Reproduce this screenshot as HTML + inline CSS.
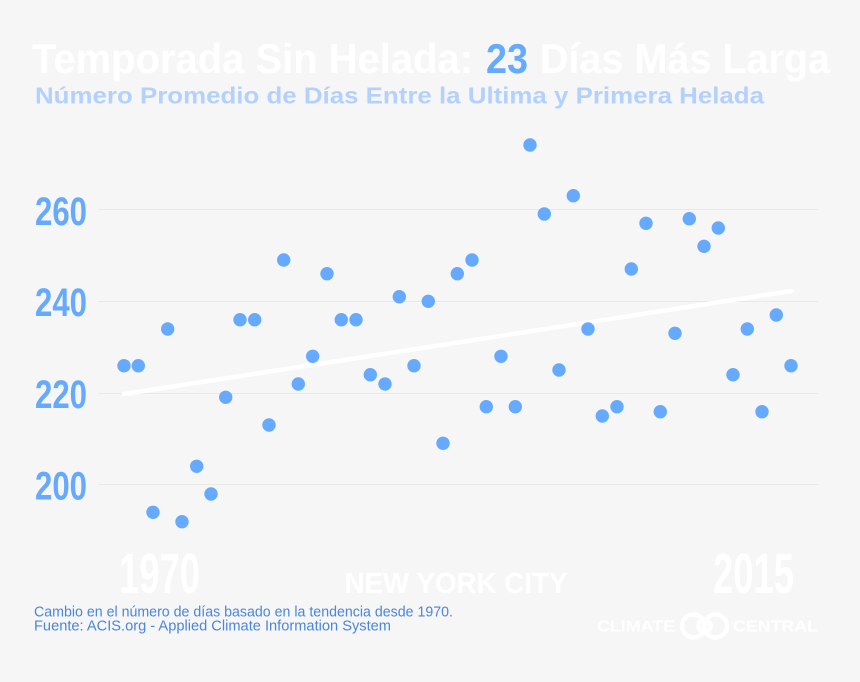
<!DOCTYPE html>
<html><head><meta charset="utf-8"><style>
html,body{margin:0;padding:0;background:#f6f6f6;}
svg{display:block;}
</style></head><body>
<svg width="860" height="682" viewBox="0 0 860 682" xmlns="http://www.w3.org/2000/svg">
<rect width="860" height="682" fill="#f6f6f6"/>
<g font-family="Liberation Sans, sans-serif" font-weight="bold">
<text x="32" y="73" font-size="42" fill="#ffffff" textLength="441" lengthAdjust="spacingAndGlyphs">Temporada Sin Helada:</text>
<text x="486" y="73" font-size="42" fill="#66aaff" textLength="42" lengthAdjust="spacingAndGlyphs">23</text>
<text x="540" y="73" font-size="42" fill="#ffffff" textLength="290" lengthAdjust="spacingAndGlyphs">Días Más Larga</text>
<text x="35" y="103.5" font-size="23.5" fill="#b3d1ff" textLength="729" lengthAdjust="spacingAndGlyphs">Número Promedio de Días Entre la Ultima y Primera Helada</text>
</g>
<g stroke="#e9e9e9" stroke-width="1">
<line x1="98" y1="209.5" x2="818" y2="209.5"/>
<line x1="98" y1="301.5" x2="818" y2="301.5"/>
<line x1="98" y1="393.5" x2="818" y2="393.5"/>
<line x1="98" y1="484.5" x2="818" y2="484.5"/>
</g>
<g font-family="Liberation Sans, sans-serif" font-weight="bold" font-size="40" fill="#66aaff">
<text x="35" y="225" textLength="52" lengthAdjust="spacingAndGlyphs">260</text>
<text x="35" y="316" textLength="52" lengthAdjust="spacingAndGlyphs">240</text>
<text x="35" y="408" textLength="52" lengthAdjust="spacingAndGlyphs">220</text>
<text x="35" y="499.5" textLength="52" lengthAdjust="spacingAndGlyphs">200</text>
</g>
<line x1="124" y1="394" x2="791.5" y2="291" stroke="#ffffff" stroke-width="4.5" stroke-linecap="round"/>
<g fill="#66aaff">
<circle cx="124" cy="365.7" r="6.7"/>
<circle cx="138.3" cy="365.7" r="6.7"/>
<circle cx="153" cy="512.3" r="6.7"/>
<circle cx="167.7" cy="329" r="6.7"/>
<circle cx="182" cy="521.7" r="6.7"/>
<circle cx="196.7" cy="466.3" r="6.7"/>
<circle cx="211" cy="494" r="6.7"/>
<circle cx="225.7" cy="397.3" r="6.7"/>
<circle cx="240" cy="319.7" r="6.7"/>
<circle cx="254.7" cy="319.7" r="6.7"/>
<circle cx="269" cy="425" r="6.7"/>
<circle cx="283.7" cy="260" r="6.7"/>
<circle cx="298.3" cy="384" r="6.7"/>
<circle cx="312.7" cy="356.3" r="6.7"/>
<circle cx="327" cy="273.7" r="6.7"/>
<circle cx="341.3" cy="319.7" r="6.7"/>
<circle cx="356" cy="319.7" r="6.7"/>
<circle cx="370.3" cy="374.7" r="6.7"/>
<circle cx="385" cy="384" r="6.7"/>
<circle cx="399.3" cy="296.7" r="6.7"/>
<circle cx="414" cy="365.7" r="6.7"/>
<circle cx="428.3" cy="301.3" r="6.7"/>
<circle cx="443" cy="443.3" r="6.7"/>
<circle cx="457.3" cy="273.7" r="6.7"/>
<circle cx="472" cy="260" r="6.7"/>
<circle cx="486.3" cy="406.7" r="6.7"/>
<circle cx="501" cy="356.3" r="6.7"/>
<circle cx="515.3" cy="406.7" r="6.7"/>
<circle cx="530" cy="145" r="6.7"/>
<circle cx="544.3" cy="214" r="6.7"/>
<circle cx="559" cy="370" r="6.7"/>
<circle cx="573.3" cy="195.7" r="6.7"/>
<circle cx="588" cy="329" r="6.7"/>
<circle cx="602.3" cy="416" r="6.7"/>
<circle cx="617" cy="406.7" r="6.7"/>
<circle cx="631.3" cy="269" r="6.7"/>
<circle cx="646" cy="223.3" r="6.7"/>
<circle cx="660.3" cy="411.7" r="6.7"/>
<circle cx="675" cy="333.3" r="6.7"/>
<circle cx="689.3" cy="218.7" r="6.7"/>
<circle cx="704" cy="246.3" r="6.7"/>
<circle cx="718.3" cy="228" r="6.7"/>
<circle cx="733" cy="374.7" r="6.7"/>
<circle cx="747.3" cy="329" r="6.7"/>
<circle cx="762" cy="411.7" r="6.7"/>
<circle cx="776.3" cy="315" r="6.7"/>
<circle cx="791" cy="365.7" r="6.7"/>
</g>
<g font-family="Liberation Sans, sans-serif" font-weight="bold" fill="#ffffff">
<text x="119" y="593" font-size="57" textLength="81" lengthAdjust="spacingAndGlyphs">1970</text>
<text x="713" y="593" font-size="57" textLength="81" lengthAdjust="spacingAndGlyphs">2015</text>
<text x="344.5" y="593" font-size="29" textLength="223" lengthAdjust="spacingAndGlyphs">NEW YORK CITY</text>
<text x="597" y="631.7" font-size="16" textLength="78" lengthAdjust="spacingAndGlyphs">CLIMATE</text>
<text x="733" y="631.7" font-size="16" textLength="85" lengthAdjust="spacingAndGlyphs">CENTRAL</text>
</g>
<g fill="none" stroke="#ffffff" stroke-width="4.5">
<circle cx="693.5" cy="626" r="11.5"/>
<circle cx="715.5" cy="626" r="11.5"/>
<circle cx="704.5" cy="626" r="6"/>
</g>
<g font-family="Liberation Sans, sans-serif" font-size="15" fill="#4a86dc">
<text x="34" y="616.7" textLength="419" lengthAdjust="spacingAndGlyphs">Cambio en el número de días basado en la tendencia desde 1970.</text>
<text x="34" y="630.7" textLength="357" lengthAdjust="spacingAndGlyphs">Fuente: ACIS.org - Applied Climate Information System</text>
</g>
</svg>
</body></html>
